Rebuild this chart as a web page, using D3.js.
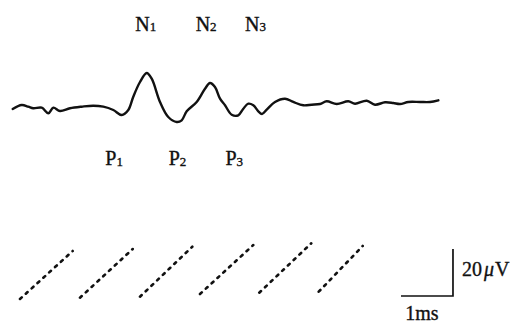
<!DOCTYPE html>
<html>
<head>
<meta charset="utf-8">
<script src="https://cdn.jsdelivr.net/npm/d3@7"></script>
<style>
  html, body { margin: 0; padding: 0; background: #fff; }
  svg text { font-family: "Liberation Serif", "DejaVu Serif", serif; fill: #111; stroke: #111; stroke-width: 0.35px; }
</style>
</head>
<body>
<svg id="chart" width="524" height="323"></svg>
<script>
// waveform: time (ms) and amplitude (uV)
const timeMs = [0.000, 0.173, 0.300, 0.396, 0.558, 0.685, 0.781, 0.910, 1.102, 1.327,
  1.550, 1.742, 1.935, 2.096, 2.223, 2.319, 2.448, 2.577, 2.673, 2.833,
  2.992, 3.154, 3.250, 3.346, 3.538, 3.698, 3.794, 3.890, 3.987, 4.083,
  4.212, 4.338, 4.435, 4.531, 4.627, 4.723, 4.794, 4.885, 5.044, 5.237,
  5.396, 5.588, 5.750, 5.910, 6.038, 6.231, 6.454, 6.583, 6.808, 6.967,
  7.160, 7.319, 7.448, 7.608, 7.833, 8.025, 8.185];
const ampUv = [-1.70, 0.00, -0.72, -1.40, -1.15, -3.53, -1.15, -2.55, -1.40, -0.72,
  -0.30, -0.72, -2.13, -4.26, -2.13, 3.53, 9.79, 13.62, 11.19, 1.28,
  -5.11, -7.23, -6.51, -2.68, 1.28, 6.94, 9.36, 7.66, 2.68, -0.13,
  -4.13, -4.38, -1.57, 0.55, -0.13, -2.68, -3.83, -2.00, 1.28, 2.68,
  1.28, -0.13, 0.13, 0.43, 1.57, 0.43, 1.57, 0.55, 1.83, 0.13,
  1.15, 0.85, 0.43, 1.28, 1.28, 1.28, 2.00];

// peak labels and the latency they sit over
const nLabels = ["1", "2", "3"];
const nTimes = [2.56, 3.72, 4.67];
const pLabels = ["1", "2", "3"];
const pTimes = [1.95, 3.17, 4.26];

// dotted time-marker ramps (lower trace)
const rampT0 = [0.140, 1.294, 2.448, 3.602, 4.742, 5.885];
const rampT1 = [1.154, 2.308, 3.454, 4.627, 5.742, 6.731];
const rampV0 = [0.43, 0.98, 1.40, 2.55, 3.11, 3.53];
const rampV1 = [20.85, 21.70, 22.68, 23.40, 24.13, 22.98];

// calibration: 1 ms, 20 uV
const calT = [7.467, 8.467];
const calV = [1.70, 21.70];

const svg = d3.select("#chart");

const x = d3.scaleLinear().domain([0, 1]).range([12.7, 64.7]);   // 52 px per ms
const y = d3.scaleLinear().domain([0, 20]).range([105, 58]);     // upper trace, 47 px per 20 uV
const y2 = d3.scaleLinear().domain([0, 20]).range([300, 253]);   // lower trace

const wave = timeMs.map((t, i) => ({ t: t, v: ampUv[i] }));

svg.append("path")
  .datum(wave)
  .attr("fill", "none")
  .attr("stroke", "#111")
  .attr("stroke-width", 2.4)
  .attr("stroke-linejoin", "round")
  .attr("stroke-linecap", "round")
  .attr("d", d3.line().x(d => x(d.t)).y(d => y(d.v)).curve(d3.curveCatmullRom.alpha(0.5)));

// N labels above, P labels below
const addLabel = (letter, sub, t, baseY) => {
  const txt = svg.append("text")
    .attr("x", x(t)).attr("y", baseY)
    .attr("text-anchor", "middle")
    .attr("font-size", 20);
  txt.append("tspan").text(letter);
  txt.append("tspan").attr("font-size", 13).attr("dy", 0.5).text(sub);
};
nLabels.forEach((s, i) => addLabel("N", s, nTimes[i], 30.5));
pLabels.forEach((s, i) => addLabel("P", s, pTimes[i], 165));

// ramps
const ramps = rampT0.map((t, i) => ({ t0: t, t1: rampT1[i], v0: rampV0[i], v1: rampV1[i] }));
svg.selectAll("line.ramp").data(ramps).enter().append("line")
  .attr("class", "ramp")
  .attr("x1", d => x(d.t0)).attr("y1", d => y2(d.v0))
  .attr("x2", d => x(d.t1)).attr("y2", d => y2(d.v1))
  .attr("stroke", "#111")
  .attr("stroke-width", 2.6)
  .attr("stroke-linecap", "round")
  .attr("stroke-dasharray", "2.4,5.5");

// calibration bar
svg.append("path")
  .attr("fill", "none")
  .attr("stroke", "#111")
  .attr("stroke-width", 1.7)
  .attr("d", `M${x(calT[0])},${y2(calV[0])}H${x(calT[1])}V${y2(calV[1])}`);

const uv = svg.append("text")
  .attr("x", x(calT[1]) + 9).attr("y", 276)
  .attr("font-size", 20);
uv.append("tspan").text("20");
uv.append("tspan").attr("font-style", "italic").attr("dx", 2).text("\u03bc");
uv.append("tspan").attr("dx", 1).text("V");

svg.append("text")
  .attr("x", (x(calT[0]) + x(calT[1])) / 2 - 5).attr("y", 320)
  .attr("text-anchor", "middle")
  .attr("font-size", 20)
  .text("1ms");
</script>
</body>
</html>
